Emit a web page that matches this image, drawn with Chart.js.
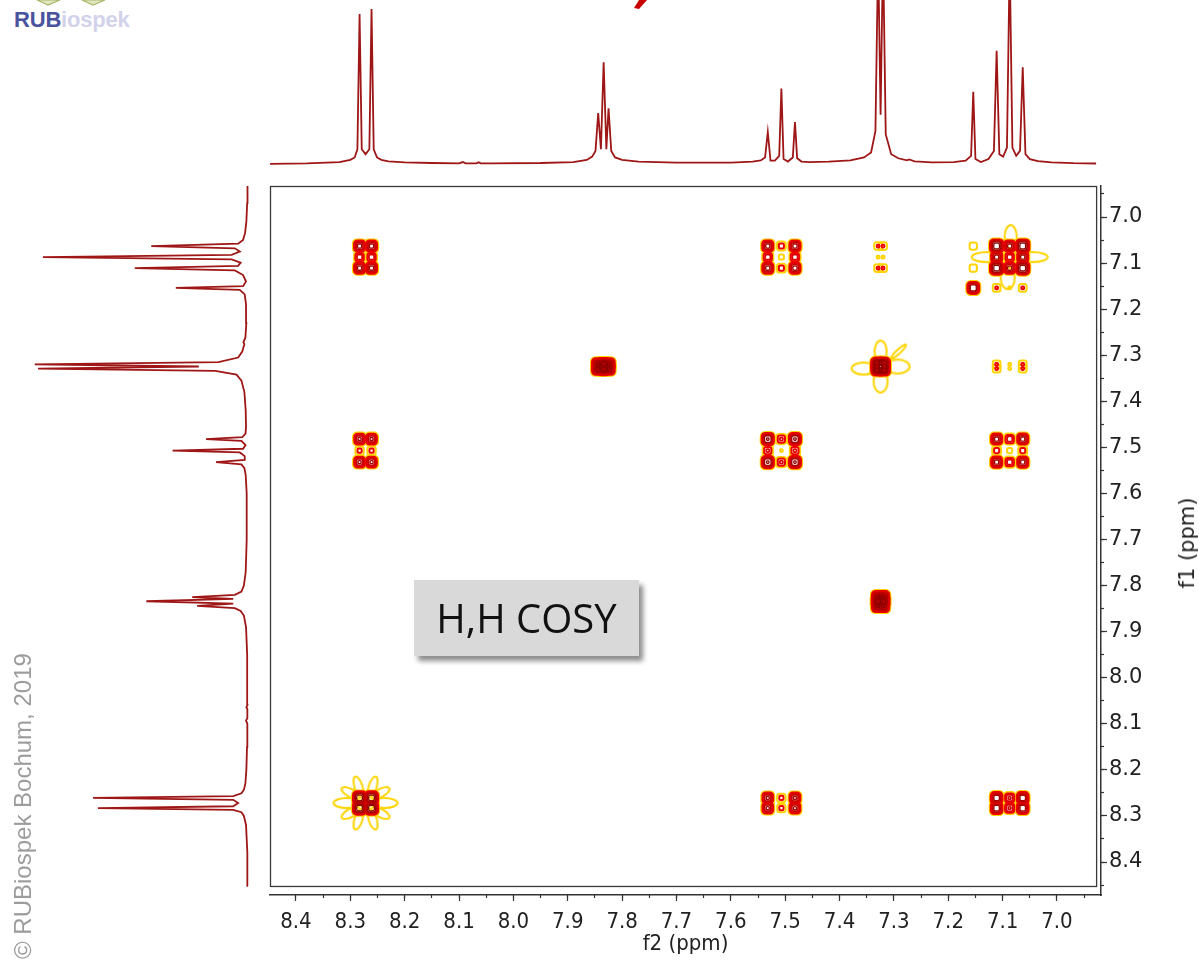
<!DOCTYPE html>
<html>
<head>
<meta charset="utf-8">
<title>H,H COSY</title>
<script src="https://cdn.jsdelivr.net/npm/chart.js@4.4.0/dist/chart.umd.min.js"></script>
<style>
  html, body { margin: 0; padding: 0; background: #fff; }
  body { width: 1199px; height: 961px; position: relative; overflow: hidden; font-family: 'Liberation Sans', Arial, sans-serif; }
  canvas { position: absolute; }
  #mainChart { left: 0; top: 0; }
  #topChart { left: 270px; top: 0; }
  #leftChart { left: 20px; top: 186px; }
  #marks { position: absolute; left: 0; top: 0; }
  #logo { position: absolute; left: 14px; top: 9px; font: bold 22px 'Liberation Sans', Arial, sans-serif; line-height: 22px; letter-spacing: -0.2px; }
  #logo .rub { color: #4a53a0; }
  #logo .bio { color: #d2d2ea; }
  #f1Title { position: absolute; left: 1187px; top: 543px; transform: translate(-50%, -50%) rotate(-90deg); font: 21px 'DejaVu Sans', sans-serif; color: #222; white-space: nowrap; }
  #cosyLabel { position: absolute; left: 414px; top: 580px; width: 225px; height: 76px; background: #d9d9d9; box-shadow: 4px 5px 5px rgba(0,0,0,0.45); font: 40px 'Open Sans', sans-serif; line-height: 76px; text-align: center; color: #111; }
  #copyright { position: absolute; left: 9px; top: 959px; transform: rotate(-90deg); transform-origin: left top; font: 24px 'Liberation Sans', Arial, sans-serif; line-height: 28px; color: #9c9c9c; white-space: nowrap; }
</style>
</head>
<body>
<svg id="marks" width="700" height="12">
  <polygon points="37,0 60,0 48,5" fill="#dfe6c0" stroke="#a9b86a" stroke-width="1.2"/>
  <polygon points="82,0 105,0 93,5" fill="#dfe6c0" stroke="#a9b86a" stroke-width="1.2"/>
  <polygon points="639,0 647,0 639,9 634,8" fill="#c80000"/>
</svg>
<div id="logo"><span class="rub">RUB</span><span class="bio">iospek</span></div>
<canvas id="mainChart" width="1199" height="961"></canvas>
<canvas id="topChart" width="831" height="170"></canvas>
<canvas id="leftChart" width="233" height="709"></canvas>
<div id="f1Title">f1 (ppm)</div>
<div id="cosyLabel">H,H COSY</div>
<div id="copyright">© RUBiospek Bochum, 2019</div>

<script>
// ============================================================================
// Data: 1D proton spectrum (ppm, relative intensity)
// ============================================================================
const specPpm = [
  8.452, 8.380, 8.320, 8.300, 8.292, 8.287, 8.283, 8.279, 8.272, 8.265, 8.261, 8.257, 8.251, 8.243, 8.230, 8.200, 8.150,
  8.100, 8.093, 8.088, 8.068, 8.064, 8.060, 8.040, 7.950, 7.890, 7.865, 7.855, 7.849, 7.844, 7.839, 7.834, 7.829, 7.825,
  7.820, 7.813, 7.800, 7.770, 7.700, 7.600, 7.560, 7.545, 7.537, 7.532, 7.527, 7.519, 7.511, 7.507, 7.503, 7.495, 7.486,
  7.482, 7.478, 7.470, 7.455, 7.420, 7.380, 7.355, 7.342, 7.334, 7.329, 7.3245, 7.320, 7.315, 7.305, 7.292, 7.276, 7.272,
  7.262, 7.230, 7.190, 7.168, 7.158, 7.154, 7.150, 7.140, 7.126, 7.116, 7.111, 7.106, 7.099, 7.092, 7.087, 7.082, 7.075,
  7.068, 7.063, 7.058, 7.050, 7.035, 7.010, 6.970, 6.928
];
const specInt = [
  0, 0.4, 1.2, 2.5, 4, 9, 91.5, 9, 6, 9, 94.5, 9, 4, 2.5, 1.6, 1, 0.6,
  0.4, 1.2, 0.4, 0.4, 1.0, 0.4, 0.4, 0.6, 1.2, 2.5, 4.5, 8, 31, 9, 62, 9, 34,
  8, 4, 2.5, 1.4, 0.8, 0.8, 1.4, 2.2, 4, 19.5, 2, 2, 5, 46, 3, 1.5, 4,
  25.6, 3.5, 1.5, 1.2, 1.4, 2.2, 4, 7, 20, 128, 30, 130, 18, 6, 3.5, 2.2, 2.8,
  1.6, 1, 1.2, 2, 5, 44, 3, 1.2, 3, 8, 69, 6, 4.5, 10, 125, 10, 5,
  8, 59, 6, 3, 1.8, 1, 0.5, 0.3
];

// ============================================================================
// Data: multiplet line positions (ppm) and their contour weights in 2D
// ============================================================================
const linesA = [8.283, 8.261];          const weightsA = [1, 1];
const linesB = [7.844, 7.834, 7.825];   const weightsB = [0.8, 1, 0.8];
const linesC = [7.532, 7.507, 7.482];   const weightsC = [1, 0.28, 1];
const linesD = [7.329, 7.320];          const weightsD = [1, 1];
const linesE = [7.154];                 const weightsE = [1];
const linesF = [7.111, 7.087, 7.063];   const weightsF = [1, 0.5, 1];

// Cross / diagonal peaks: multiplet on f2, multiplet on f1, amplitude
const crossF2  = ['A', 'C', 'D', 'F', 'E', 'E', 'F', 'B', 'D', 'F', 'A', 'C', 'F', 'D', 'A', 'C', 'F'];
const crossF1  = ['F', 'F', 'F', 'F', 'E', 'F', 'E', 'D', 'D', 'D', 'C', 'C', 'C', 'B', 'A', 'A', 'A'];
const crossAmp = [1.0, 1.0, 0.22, 2.0, 1.3, 0.2, 0.22, 1.9, 2.6, 0.22, 0.9, 1.4, 1.0, 1.9, 2.0, 0.9, 1.2];

// Diagonal peaks with dispersive (yellow) lobes
const lobePeaks = ['A', 'D', 'F'];

// Axis ticks
const majorStep = 0.1;
const minorStep = 0.05;

// ============================================================================
// Plot ranges (ppm)
// ============================================================================
const F2_LEFT = 8.4478, F2_RIGHT = 6.919;
const F1_TOP = 6.9327, F1_BOTTOM = 8.4716;
const FRAME_F2_RIGHT = 6.928, FRAME_F1_BOTTOM = 8.452;

const SPEC_COLOR = '#9e1616';
const AXIS_COLOR = '#333';
const narrowFont = "'Liberation Sans Narrow', 'DejaVu Sans Condensed', 'Liberation Sans', sans-serif";

// contour styling: threshold levels (lowest = yellow), line colours, peak width in px
const levelThreshold = [0.1, 0.2, 0.35, 0.55, 0.8, 1.3];
const levelColor = ['#ffd400', '#ee0000', '#dc0000', '#c80000', '#a80000', '#8a0000'];
const levelWidth = [2, 2, 1.8, 1.6, 1.4, 1.3];
const PEAK_SIGMA = 3.6;

// ============================================================================
// Build data
// ============================================================================
const multiplets = {
  A: { lines: linesA, w: weightsA },
  B: { lines: linesB, w: weightsB },
  C: { lines: linesC, w: weightsC },
  D: { lines: linesD, w: weightsD },
  E: { lines: linesE, w: weightsE },
  F: { lines: linesF, w: weightsF }
};

function buildContourLevels() {
  const levels = levelThreshold.map(() => []);
  crossF2.forEach((m2, n) => {
    const a = multiplets[m2];
    const b = multiplets[crossF1[n]];
    a.lines.forEach((x, i) => {
      b.lines.forEach((y, j) => {
        const s = crossAmp[n] * a.w[i] * b.w[j];
        levelThreshold.forEach((t, k) => {
          if (s > t) levels[k].push({ x: x, y: y, s: s });
        });
      });
    });
  });
  return levels;
}

// contour radius of a gaussian spot of height s cut at level t
function contourRadius(s, t) {
  return PEAK_SIGMA * Math.sqrt(2 * Math.log(s / t));
}

function centerOf(name) {
  const l = multiplets[name].lines;
  return l.reduce((s, v) => s + v, 0) / l.length;
}

// yellow lobe markers, drawn once to an offscreen canvas
const lobeShapes = {
  A: { w: 70, h: 62, petals: [[-19,0,13,5,0],[19,0,13,5,0],[-7,-16,4,11,-0.3],[7,-16,4,11,0.3],[-7,16,4,11,0.3],[7,16,4,11,-0.3],
                               [-15,-10,10,4,0.5],[15,-10,10,4,-0.5],[-15,10,10,4,-0.5],[15,10,10,4,0.5]] },
  D: { w: 66, h: 60, petals: [[-17,2,12,6,0],[17,0,12,7,0],[0,-15,6,11,0],[0,15,7,11,0],[18,-15,10,2,-0.75]] },
  F: { w: 80, h: 70, petals: [[-23,0,15,5,0],[23,0,15,5,0],[1,-20,6,12,0],[-2,21,7,11,0]] }
};

function makeLobe(shape) {
  const c = document.createElement('canvas');
  c.width = shape.w;
  c.height = shape.h;
  const g = c.getContext('2d');
  g.strokeStyle = '#ffd400';
  g.lineWidth = 2;
  shape.petals.forEach(p => {
    g.beginPath();
    g.ellipse(shape.w / 2 + p[0], shape.h / 2 + p[1], p[2], p[3], p[4], 0, Math.PI * 2);
    g.stroke();
  });
  return c;
}

// ============================================================================
// Helpers
// ============================================================================
function isMajor(v) {
  return Math.abs(v / majorStep - Math.round(v / majorStep)) < 1e-6;
}

const framePlugin = {
  id: 'frame',
  afterDatasetsDraw(chart) {
    const { ctx, scales } = chart;
    const l = scales.x.getPixelForValue(F2_LEFT);
    const r = scales.x.getPixelForValue(FRAME_F2_RIGHT);
    const t = scales.y.getPixelForValue(F1_TOP);
    const b = scales.y.getPixelForValue(FRAME_F1_BOTTOM);
    ctx.save();
    ctx.strokeStyle = '#3a3a3a';
    ctx.lineWidth = 1.3;
    ctx.strokeRect(Math.round(l) + 0.5, Math.round(t) + 0.5, r - l, b - t);
    ctx.restore();
  }
};

// ============================================================================
// Main 2D chart
// ============================================================================
const levels = buildContourLevels();
const contourSets = levels.map((pts, k) => ({
  data: pts,
  pointStyle: 'rectRounded',
  pointRadius: c => contourRadius(c.raw.s, levelThreshold[k]),
  borderColor: levelColor[k],
  backgroundColor: 'rgba(0,0,0,0)',
  pointBorderWidth: levelWidth[k],
  order: 6 - k
}));

const lobeSet = {
  data: lobePeaks.map(m => ({ x: centerOf(m), y: centerOf(m) })),
  pointStyle: lobePeaks.map(m => makeLobe(lobeShapes[m])),
  pointRadius: 1,
  order: 10
};

new Chart(document.getElementById('mainChart'), {
  type: 'scatter',
  data: { datasets: [lobeSet].concat(contourSets) },
  options: {
    responsive: false,
    animation: false,
    events: [],
    layout: { padding: { left: 270, top: 186, right: 0, bottom: 0 } },
    plugins: { legend: { display: false }, tooltip: { enabled: false } },
    scales: {
      xMinor: {
        type: 'linear', position: 'bottom', reverse: true, min: F2_RIGHT, max: F2_LEFT, weight: -1,
        afterFit: s => { s.height = 0; },
        border: { display: false },
        grid: { drawOnChartArea: false, tickLength: 3, tickColor: AXIS_COLOR, tickWidth: 1.2 },
        ticks: { stepSize: minorStep, includeBounds: false, autoSkip: false, maxRotation: 0, callback: () => '' }
      },
      x: {
        type: 'linear', position: 'bottom', reverse: true, min: F2_RIGHT, max: F2_LEFT, weight: 0,
        afterFit: s => { s.height = 66; },
        border: { display: true, color: AXIS_COLOR, width: 1.5 },
        grid: { drawOnChartArea: false, tickLength: 6, tickColor: AXIS_COLOR, tickWidth: 1.2 },
        ticks: {
          stepSize: majorStep, includeBounds: false, autoSkip: false, maxRotation: 0, padding: 8,
          color: '#222', font: { family: narrowFont, size: 22 },
          callback: v => isMajor(v) ? v.toFixed(1) : ''
        },
        title: { display: true, text: 'f2 (ppm)', color: '#222', font: { family: narrowFont, size: 22 }, padding: { top: 0, bottom: 4 } }
      },
      yMinor: {
        type: 'linear', position: 'right', reverse: true, min: F1_TOP, max: F1_BOTTOM, weight: -1,
        afterFit: s => { s.width = 0; },
        border: { display: false },
        grid: { drawOnChartArea: false, tickLength: 3, tickColor: AXIS_COLOR, tickWidth: 1.2 },
        ticks: { stepSize: minorStep, includeBounds: false, autoSkip: false, callback: () => '' }
      },
      y: {
        type: 'linear', position: 'right', reverse: true, min: F1_TOP, max: F1_BOTTOM, weight: 0,
        afterFit: s => { s.width = 98; },
        border: { display: true, color: AXIS_COLOR, width: 1.5 },
        grid: { drawOnChartArea: false, tickLength: 6, tickColor: AXIS_COLOR, tickWidth: 1.2 },
        ticks: {
          stepSize: majorStep, includeBounds: false, autoSkip: false, padding: 2,
          color: '#222', font: { family: "'DejaVu Sans', sans-serif", size: 21 },
          callback: v => isMajor(v) ? v.toFixed(1) : ''
        }
      }
    }
  },
  plugins: [framePlugin]
});

// ============================================================================
// Projections: top (f2) and left (f1) 1D spectra
// ============================================================================
const hiddenAxis = { display: false };

new Chart(document.getElementById('topChart'), {
  type: 'scatter',
  data: {
    datasets: [{
      data: specPpm.map((p, i) => ({ x: p, y: specInt[i] })),
      showLine: true, pointRadius: 0, borderColor: SPEC_COLOR, borderWidth: 1.8, tension: 0
    }]
  },
  options: {
    responsive: false, animation: false, events: [],
    layout: { padding: 0 },
    plugins: { legend: { display: false }, tooltip: { enabled: false } },
    scales: {
      x: Object.assign({ type: 'linear', reverse: true, min: F2_RIGHT, max: F2_LEFT }, hiddenAxis),
      y: Object.assign({ type: 'linear', min: -3.66, max: 100 }, hiddenAxis)
    }
  }
});

new Chart(document.getElementById('leftChart'), {
  type: 'scatter',
  data: {
    datasets: [{
      data: specPpm.map((p, i) => ({ x: specInt[i], y: p })),
      showLine: true, pointRadius: 0, borderColor: SPEC_COLOR, borderWidth: 1.8, tension: 0
    }]
  },
  options: {
    responsive: false, animation: false, events: [],
    layout: { padding: 0 },
    plugins: { legend: { display: false }, tooltip: { enabled: false } },
    scales: {
      x: Object.assign({ type: 'linear', reverse: true, min: -3.05, max: 139 }, hiddenAxis),
      y: Object.assign({ type: 'linear', reverse: true, min: F1_TOP, max: F1_BOTTOM }, hiddenAxis)
    }
  }
});
</script>
</body>
</html>
